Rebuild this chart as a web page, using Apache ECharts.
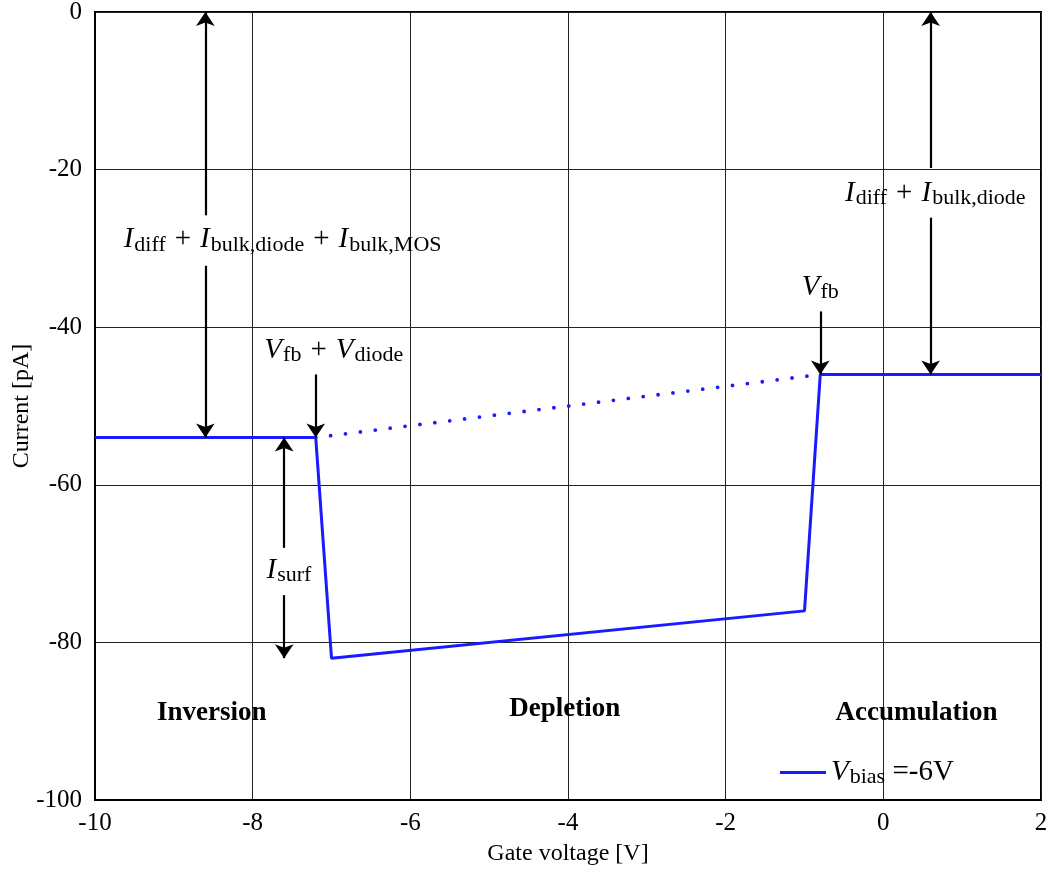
<!DOCTYPE html>
<html>
<head>
<meta charset="utf-8">
<script src="https://cdn.jsdelivr.net/npm/echarts@6/dist/echarts.min.js"></script>
<style>
  html, body { margin: 0; padding: 0; background: #fff; }
  #main { width: 1049px; height: 874px; }
</style>
</head>
<body>
<div id="main"></div>
<script>
// measured curve, Vbias = -6V
const gateVoltage = [-10, -7.2, -7.0, -1.0, -0.8, 2];
const current = [-54, -54, -82, -76, -46, -46];
// dotted guide between the two flat-band points
const guideVoltage = [-7.2, -0.8];
const guideCurrent = [-54, -46];

// annotation arrows: [x, yFrom, yTo] (head sits at yTo)
const arrows = [
  [-8.6, -25.8, 0],
  [-8.6, -32.2, -54],
  [0.6, -19.8, 0],
  [0.6, -26.1, -46],
  [-7.2, -46, -54],
  [-0.8, -38, -46],
  [-7.6, -68, -54],
  [-7.6, -74, -82]
];

// annotation texts
const noteX = [-7.62, 0.66, -6.97, -0.8, -7.54];
const noteY = [-28.9, -23, -42.9, -34.9, -70.8];
const noteText = [
  '{i|I}{s|diff}{p|+}{i|I}{s|bulk,diode}{p|+}{i|I}{s|bulk,MOS}',
  '{i|I}{s|diff}{p|+}{i|I}{s|bulk,diode}',
  '{i|V}{s|fb}{p|+}{i|V}{s|diode}',
  '{i|V}{s|fb}',
  '{i|I}{s|surf}'
];

const regionX = [-8.52, -4.04, 0.42];
const regionY = [-89, -88.5, -89];
const regionName = ['Inversion', 'Depletion', 'Accumulation'];

const xTicks = { min: -10, max: 2, step: 2 };
const yTicks = { min: -100, max: 0, step: 20 };

const FONT = 'Liberation Serif';
const richMath = {
  i: { fontFamily: FONT, fontStyle: 'italic', fontSize: 29, lineHeight: 32, color: '#000', padding: [0, 1, 0, 0] },
  s: { fontFamily: FONT, fontSize: 22, lineHeight: 22, verticalAlign: 'bottom', color: '#000' },
  p: { fontFamily: FONT, fontSize: 29, lineHeight: 32, color: '#000', padding: [0, 9, 0, 9] },
  n: { fontFamily: FONT, fontSize: 29, lineHeight: 32, color: '#000' }
};

let chartDom = document.getElementById('main');
let myChart = echarts.init(chartDom);
let option;

option = {
  animation: false,
  backgroundColor: '#fff',
  grid: {
    left: 95, right: 8, top: 12, bottom: 74,
    outerBoundsMode: 'none',
    show: true, borderColor: '#000', borderWidth: 2
  },
  legend: {
    data: ['Vbias'],
    left: 775,
    top: 753,
    icon: 'rect',
    itemWidth: 46,
    itemHeight: 3,
    itemStyle: { color: '#1a1aff' },
    formatter: function () {
      return '{i|V}{s|bias}{n| =-6V}';
    },
    textStyle: { rich: richMath }
  },
  xAxis: {
    type: 'value',
    min: xTicks.min, max: xTicks.max, interval: xTicks.step,
    name: 'Gate voltage [V]',
    nameLocation: 'middle',
    nameGap: 42,
    nameTextStyle: { fontFamily: FONT, fontSize: 24, color: '#000' },
    axisLine: { show: true, onZero: false, lineStyle: { color: '#000', width: 2 } },
    axisTick: { show: false },
    axisLabel: { fontFamily: FONT, fontSize: 25, color: '#000', margin: 11 },
    splitLine: { show: true, lineStyle: { color: '#222', width: 1 } }
  },
  yAxis: {
    type: 'value',
    min: yTicks.min, max: yTicks.max, interval: yTicks.step,
    name: 'Current [pA]',
    nameLocation: 'middle',
    nameGap: 61,
    nameMoveOverlap: false,
    nameTextStyle: { fontFamily: FONT, fontSize: 24, color: '#000' },
    axisLine: { show: true, onZero: false, lineStyle: { color: '#000', width: 2 } },
    axisTick: { show: false },
    axisLabel: { fontFamily: FONT, fontSize: 25, color: '#000', margin: 13 },
    splitLine: { show: true, lineStyle: { color: '#222', width: 1 } }
  },
  series: [
    {
      name: 'Vbias',
      type: 'line',
      symbol: 'none',
      data: gateVoltage.map((v, i) => [v, current[i]]),
      lineStyle: { color: '#1a1aff', width: 3 },
      itemStyle: { color: '#1a1aff' },
      z: 5
    },
    {
      name: 'guide',
      type: 'line',
      symbol: 'none',
      data: guideVoltage.map((v, i) => [v, guideCurrent[i]]),
      lineStyle: { color: '#1a1aff', width: 3.8, type: [0, 15], cap: 'round' },
      z: 4
    },
    {
      name: 'arrows',
      type: 'lines',
      coordinateSystem: 'cartesian2d',
      symbol: ['none', 'arrow'],
      symbolSize: [9, 14],
      lineStyle: { color: '#000', width: 2.2, opacity: 1, curveness: 0 },
      data: arrows.map(a => ({ coords: [[a[0], a[1]], [a[0], a[2]]] })),
      silent: true,
      z: 6
    },
    {
      name: 'notes',
      type: 'scatter',
      symbolSize: 0,
      silent: true,
      itemStyle: { opacity: 1 },
      data: noteX.map((x, i) => ({
        value: [x, noteY[i]],
        label: { formatter: noteText[i] }
      })),
      label: {
        show: true,
        position: 'inside',
        color: '#000',
        textBorderWidth: 0,
        rich: richMath
      },
      z: 7
    },
    {
      name: 'regions',
      type: 'scatter',
      symbolSize: 0,
      silent: true,
      itemStyle: { opacity: 1 },
      data: regionX.map((x, i) => ({ value: [x, regionY[i]], name: regionName[i] })),
      label: {
        show: true,
        position: 'inside',
        formatter: '{b}',
        fontFamily: FONT,
        fontWeight: 'bold',
        fontSize: 27,
        color: '#000',
        textBorderWidth: 0
      },
      z: 7
    }
  ]
};

option && myChart.setOption(option);
</script>
</body>
</html>
